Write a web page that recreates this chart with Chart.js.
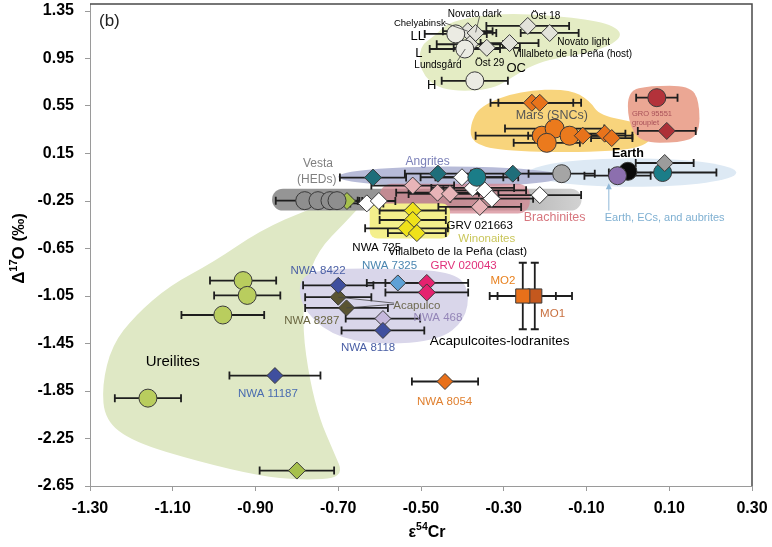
<!DOCTYPE html>
<html>
<head>
<meta charset="utf-8">
<script src="https://cdn.jsdelivr.net/npm/chart.js@4.4.1/dist/chart.umd.min.js"></script>
<style>
  html, body { margin: 0; padding: 0; background: #fff; }
  #wrap { width: 772px; height: 547px; }
</style>
</head>
<body>
<div id="wrap"><canvas id="chart" width="772" height="547"></canvas></div>
<script>
// axis ticks
const xTicks = [-1.30, -1.10, -0.90, -0.70, -0.50, -0.30, -0.10, 0.10, 0.30];
const xTickLabels = ["-1.30", "-1.10", "-0.90", "-0.70", "-0.50", "-0.30", "-0.10", "0.10", "0.30"];
const yTicks = [-2.65, -2.25, -1.85, -1.45, -1.05, -0.65, -0.25, 0.15, 0.55, 0.95, 1.35];
const yTickLabels = ["-2.65", "-2.25", "-1.85", "-1.45", "-1.05", "-0.65", "-0.25", "0.15", "0.55", "0.95", "1.35"];

// points: [e54Cr, D17O, xerr, yerr]
const ocCircles = [[-0.416, 1.157, 0.075], [-0.394, 1.03, 0.085], [-0.370, 0.762, 0.08]];
const ocDiamonds = [[-0.286, 1.08, 0.07], [-0.242, 1.224, 0.10], [-0.189, 1.165, 0.07], [-0.387, 1.18, 0.06],
                    [-0.368, 1.165, 0.05], [-0.382, 1.07, 0.08], [-0.341, 1.04, 0.08]];
const marsCircles = [[-0.208, 0.30, 0.16], [-0.177, 0.36, 0.12], [-0.141, 0.30, 0.10], [-0.196, 0.24, 0.08]];
const marsDiamonds = [[-0.232, 0.577, 0.10], [-0.213, 0.577, 0.10], [-0.109, 0.30, 0.12], [-0.056, 0.317, 0.05], [-0.039, 0.28, 0.05]];
const groCircle = [[0.07, 0.62, 0.05]];
const groDiamond = [[0.094, 0.34, 0.07]];
const vestaCircles = [[-0.781, -0.247, 0.07], [-0.749, -0.247, 0.05], [-0.720, -0.247, 0.05], [-0.703, -0.247, 0.05]];
const grayCircle = [[-0.160, -0.02, 0.08]];
const grayDiamond = [[0.089, 0.07, 0.07]];
const angriteDiamonds = [[-0.616, -0.053, 0.08], [-0.459, -0.02, 0.08], [-0.278, -0.02, 0.10]];
const tealCircles = [[-0.365, -0.05, 0.10], [0.084, -0.01, 0.13]];
const brachiniteDiamonds = [[-0.52, -0.12, 0.10], [-0.46, -0.18, 0.10], [-0.43, -0.19, 0.10], [-0.358, -0.30, 0.10]];
const whiteDiamonds = [[-0.631, -0.27, 0.04], [-0.602, -0.25, 0.04], [-0.401, -0.05, 0.10], [-0.375, -0.14, 0.10],
                       [-0.346, -0.16, 0.10], [-0.329, -0.23, 0.10], [-0.213, -0.20, 0.10]];
const greenDiamonds = [[-0.679, -0.25, 0.03], [-0.80, -2.52, 0.09]];
const winonaiteDiamonds = [[-0.52, -0.33, 0.08], [-0.52, -0.41, 0.08], [-0.535, -0.48, 0.10], [-0.51, -0.52, 0.07]];
const purpleCircle = [[-0.025, -0.037, 0.08]];
const earthCircle = [[0, 0, 0]];
const ureiliteCircles = [[-0.93, -0.92, 0.08], [-0.92, -1.045, 0.08], [-0.979, -1.21, 0.10], [-1.16, -1.91, 0.08]];
const blueDiamonds = [[-0.70, -0.96, 0.085], [-0.592, -1.34, 0.10], [-0.853, -1.72, 0.11]];
const nwa7325 = [[-0.556, -0.94, 0.075]];
const grv020043 = [[-0.486, -0.94, 0.10], [-0.486, -1.02, 0.10]];
const acapulco = [[-0.70, -1.06, 0.08], [-0.68, -1.15, 0.10]];
const nwa468 = [[-0.592, -1.24, 0.09]];
const mo2 = [[-0.254, -1.05, 0.08, 0.28]];
const mo1 = [[-0.225, -1.05, 0.09, 0.28]];
const nwa8054 = [[-0.442, -1.77, 0.08]];

// shaded groups (data coordinates)
const ureiliteArea = [[-0.619, -0.188], [-0.684, -0.432], [-0.749, -0.667], [-0.781, -0.961], [-0.786, -1.339], [-0.769, -1.759],
  [-0.744, -2.095], [-0.713, -2.347], [-0.684, -2.583], [-0.793, -2.600], [-0.889, -2.566], [-1.034, -2.448], [-1.196, -2.280],
  [-1.264, -2.095], [-1.271, -1.801], [-1.247, -1.465], [-1.191, -1.213], [-1.107, -0.961], [-1.003, -0.768], [-0.889, -0.499],
  [-0.769, -0.314], [-0.672, -0.205]];
const ocArea = [[-0.467, 1.14], [-0.43, 1.266], [-0.31, 1.333], [-0.165, 1.308], [-0.044, 1.249], [-0.008, 1.14], [-0.068, 1.014],
  [-0.213, 0.93], [-0.273, 0.804], [-0.334, 0.678], [-0.455, 0.678], [-0.503, 0.846], [-0.503, 1.056]];
const marsArea = [[-0.382, 0.384], [-0.358, 0.552], [-0.261, 0.678], [-0.141, 0.695], [-0.092, 0.594], [-0.068, 0.468],
  [0.029, 0.409], [0.065, 0.30], [0.029, 0.19], [-0.116, 0.157], [-0.31, 0.174], [-0.377, 0.241]];
const groArea = [[0, 0.678], [0.053, 0.72], [0.149, 0.72], [0.173, 0.594], [0.173, 0.30], [0.125, 0.241], [0.029, 0.241], [0, 0.426]];
const acapulcoiteArea = [[-0.793, -0.877], [-0.720, -0.818], [-0.551, -0.818], [-0.418, -0.852], [-0.382, -1.003],
  [-0.394, -1.255], [-0.455, -1.423], [-0.600, -1.465], [-0.720, -1.381], [-0.793, -1.129]];

const regions = [
  { type: "poly", pts: ureiliteArea, color: "#dfe8c5" },
  { type: "poly", pts: ocArea, color: "#e4ecc4" },
  { type: "poly", pts: marsArea, color: "#f8d47c" },
  { type: "poly", pts: groArea, color: "#eba794" },
  { type: "ellipse", cx: 0.012, cy: -0.011, rx: 0.25, ry: 0.12, color: "#dde9f4" },
  { type: "ellipse", cx: -0.43, cy: -0.045, rx: 0.27, ry: 0.085, color: "#b7bbd8" },
  { type: "box", x1: -0.86, y1: -0.146, x2: -0.112, y2: -0.331, round: 11, grad: ["#959595", "#d2d2d2"] },
  { type: "box", x1: -0.60, y1: -0.104, x2: -0.237, y2: -0.356, round: 12, color: "rgba(212,135,146,0.72)" },
  { type: "box", x1: -0.624, y1: -0.272, x2: -0.43, y2: -0.566, round: 8, color: "#f4ef8c" },
  { type: "poly", pts: acapulcoiteArea, color: "#d9d6ea" }
];

// text labels: [text, x, y, colour, font, align]
const labels = [
  ["Chelyabinsk", -0.503, 1.249, "#000", "9.5px", "center"],
  ["Novato dark", -0.370, 1.325, "#000", "10px", "center"],
  ["Öst 18", -0.199, 1.308, "#000", "10px", "center"],
  ["LL", -0.508, 1.14, "#000", "13px", "center"],
  ["L", -0.505, 0.989, "#000", "13px", "center"],
  ["Novato light", -0.107, 1.09, "#000", "10px", "center"],
  ["Villalbeto de la Peña (host)", -0.278, 0.989, "#000", "10px", "left"],
  ["Lundsgård", -0.459, 0.896, "#000", "10px", "center"],
  ["Öst 29", -0.334, 0.913, "#000", "10px", "center"],
  ["OC", -0.270, 0.863, "#000", "13px", "center"],
  ["H", -0.474, 0.72, "#000", "13px", "center"],
  ["Mars (SNCs)", -0.184, 0.468, "#555", "12.5px", "center"],
  ["GRO 95551", 0.010, 0.484, "#a85058", "7.5px", "left"],
  ["grouplet", 0.010, 0.409, "#a85058", "7.5px", "left"],
  ["Earth", 0.0, 0.148, "#000", "bold 12.5px", "center"],
  ["Earth, ECs, and aubrites", 0.089, -0.39, "#7fb0d2", "11px", "center"],
  ["Vesta", -0.749, 0.064, "#808080", "12px", "center"],
  ["(HEDs)", -0.752, -0.07, "#808080", "12px", "center"],
  ["Angrites", -0.484, 0.081, "#7b80b8", "12px", "center"],
  ["Brachinites", -0.177, -0.39, "#d7777f", "12.5px", "center"],
  ["GRV 021663", -0.358, -0.457, "#000", "11.5px", "center"],
  ["Winonaites", -0.341, -0.566, "#c9c65a", "11.5px", "center"],
  ["NWA 725", -0.607, -0.642, "#000", "11.5px", "center"],
  ["Villalbeto de la Peña (clast)", -0.58, -0.675, "#000", "11.5px", "left"],
  ["NWA 8422", -0.749, -0.835, "#4a5fa5", "11.5px", "center"],
  ["NWA 7325", -0.576, -0.793, "#4a86b0", "11.5px", "center"],
  ["GRV 020043", -0.397, -0.793, "#e0307a", "11.5px", "center"],
  ["MO2", -0.302, -0.919, "#e8801e", "11.5px", "center"],
  ["MO1", -0.182, -1.196, "#c87040", "11.5px", "center"],
  ["Acapulco", -0.51, -1.129, "#6e6a50", "11.5px", "center"],
  ["NWA 8287", -0.764, -1.255, "#6a6640", "11.5px", "center"],
  ["NWA 468", -0.459, -1.238, "#9486b8", "11.5px", "center"],
  ["NWA 8118", -0.628, -1.49, "#4a5fa5", "11.5px", "center"],
  ["Acapulcoites-lodranites", -0.310, -1.432, "#000", "13.5px", "center"],
  ["Ureilites", -1.10, -1.608, "#000", "15px", "center"],
  ["NWA 11187", -0.870, -1.877, "#4a6cb0", "11.5px", "center"],
  ["NWA 8054", -0.443, -1.944, "#e08030", "11.5px", "center"]
];

// leader lines: [x1, y1, x2, y2]
const leaders = [
  [-0.442, 1.249, -0.387, 1.18],
  [-0.358, 1.31, -0.368, 1.17],
  [-0.412, 0.93, -0.393, 1.03],
  [-0.70, -1.06, -0.565, -1.11],
  [-0.68, -1.15, -0.565, -1.12]
];

const FONT = "'Liberation Sans', Arial, sans-serif";

function series(pts, style, radius, fill) {
  return {
    data: pts.map(p => ({ x: p[0], y: p[1] })),
    xerr: pts.map(p => p[2] || 0),
    yerr: pts.map(p => p[3] || 0),
    pointStyle: style,
    pointRadius: radius,
    backgroundColor: fill,
    borderColor: "#3a3a3a",
    borderWidth: 1,
    showLine: false
  };
}

const C = "circle", D = "rectRot", S = "rect";
const datasets = [
  series(ocCircles, C, 9, "#ebebe3"),
  series(ocDiamonds, D, 8.5, "#e2e2da"),
  series(marsDiamonds, D, 8.5, "#e8731b"),
  series(marsCircles, C, 9.5, "#eb7a1d"),
  series(groCircle, C, 9, "#b3323a"),
  series(groDiamond, D, 8.5, "#ad3037"),
  series(vestaCircles, C, 9, "#8e8e8e"),
  series(grayCircle, C, 9, "#a5a5a5"),
  series(grayDiamond, D, 8.5, "#9c9c9c"),
  series(brachiniteDiamonds, D, 8.5, "#e8b4b8"),
  series(angriteDiamonds, D, 8.5, "#1f6e7a"),
  series(tealCircles, C, 9, "#1b7d88"),
  series(whiteDiamonds, D, 8.5, "#ffffff"),
  series(greenDiamonds, D, 8.5, "#a6c04c"),
  series(winonaiteDiamonds, D, 8.5, "#efe21a"),
  series(purpleCircle, C, 9, "#8c6fae"),
  series(earthCircle, C, 9, "#0a0a0a"),
  series(ureiliteCircles, C, 9, "#b9cd5e"),
  series(blueDiamonds, D, 8, "#3f4f9e"),
  series(nwa7325, D, 8, "#5ea1d6"),
  series(grv020043, D, 8.5, "#e5226f"),
  series(acapulco, D, 8, "#5a5432"),
  series(nwa468, D, 8, "#c6b8dc"),
  series(mo2, S, 10, "#e8701a"),
  series(mo1, S, 10, "#c4581e"),
  series(nwa8054, D, 8, "#e8701a")
];

function toPx(chart, x, y) {
  return [chart.scales.x.getPixelForValue(x), chart.scales.y.getPixelForValue(y)];
}

// smooth closed curve through midpoints
function smoothPath(ctx, p) {
  const n = p.length;
  const mid = (a, b) => [(a[0] + b[0]) / 2, (a[1] + b[1]) / 2];
  const m0 = mid(p[0], p[1]);
  ctx.moveTo(m0[0], m0[1]);
  for (let i = 1; i <= n; i++) {
    const c = p[i % n];
    const m = mid(c, p[(i + 1) % n]);
    ctx.quadraticCurveTo(c[0], c[1], m[0], m[1]);
  }
  ctx.closePath();
}

const overlay = {
  id: "overlay",
  beforeDatasetsDraw(chart) {
    const ctx = chart.ctx, a = chart.chartArea;
    ctx.save();
    ctx.beginPath();
    ctx.rect(a.left, a.top - 6, a.right - a.left, a.bottom - a.top + 6);
    ctx.clip();

    // shaded groups
    regions.forEach(r => {
      ctx.beginPath();
      if (r.type === "poly") {
        smoothPath(ctx, r.pts.map(p => toPx(chart, p[0], p[1])));
      } else if (r.type === "ellipse") {
        const c = toPx(chart, r.cx, r.cy);
        const e = toPx(chart, r.cx + r.rx, r.cy + r.ry);
        ctx.ellipse(c[0], c[1], Math.abs(e[0] - c[0]), Math.abs(e[1] - c[1]), 0, 0, Math.PI * 2);
      } else {
        const p1 = toPx(chart, r.x1, r.y1), p2 = toPx(chart, r.x2, r.y2);
        ctx.roundRect(p1[0], p1[1], p2[0] - p1[0], p2[1] - p1[1], r.round);
      }
      if (r.grad) {
        const p1 = toPx(chart, r.x1, r.y1), p2 = toPx(chart, r.x2, r.y2);
        const g = ctx.createLinearGradient(p1[0], 0, p2[0], 0);
        g.addColorStop(0, r.grad[0]);
        g.addColorStop(0.55, r.grad[0]);
        g.addColorStop(1, r.grad[1]);
        ctx.fillStyle = g;
      } else {
        ctx.fillStyle = r.color;
      }
      ctx.fill();
    });

    // error bars
    ctx.strokeStyle = "#1e1e1e";
    ctx.lineWidth = 1.8;
    chart.data.datasets.forEach(ds => {
      ds.data.forEach((d, i) => {
        const c = toPx(chart, d.x, d.y);
        const ex = ds.xerr[i], ey = ds.yerr[i];
        if (ex) {
          const l = chart.scales.x.getPixelForValue(d.x - ex);
          const r = chart.scales.x.getPixelForValue(d.x + ex);
          ctx.beginPath();
          ctx.moveTo(l, c[1]); ctx.lineTo(r, c[1]);
          ctx.moveTo(l, c[1] - 4); ctx.lineTo(l, c[1] + 4);
          ctx.moveTo(r, c[1] - 4); ctx.lineTo(r, c[1] + 4);
          ctx.stroke();
        }
        if (ey) {
          const t = chart.scales.y.getPixelForValue(d.y + ey);
          const b = chart.scales.y.getPixelForValue(d.y - ey);
          ctx.beginPath();
          ctx.moveTo(c[0], t); ctx.lineTo(c[0], b);
          ctx.moveTo(c[0] - 4, t); ctx.lineTo(c[0] + 4, t);
          ctx.moveTo(c[0] - 4, b); ctx.lineTo(c[0] + 4, b);
          ctx.stroke();
        }
      });
    });
    ctx.restore();
  },
  afterDatasetsDraw(chart) {
    const ctx = chart.ctx, a = chart.chartArea;
    ctx.save();

    // leader lines
    ctx.strokeStyle = "#444";
    ctx.lineWidth = 0.8;
    leaders.forEach(l => {
      const p = toPx(chart, l[0], l[1]), q = toPx(chart, l[2], l[3]);
      ctx.beginPath(); ctx.moveTo(p[0], p[1]); ctx.lineTo(q[0], q[1]); ctx.stroke();
    });

    // arrow to Earth group
    const a1 = toPx(chart, -0.046, -0.331), a2 = toPx(chart, -0.046, -0.10);
    ctx.strokeStyle = "#8fb8d8"; ctx.fillStyle = "#8fb8d8"; ctx.lineWidth = 1;
    ctx.beginPath(); ctx.moveTo(a1[0], a1[1]); ctx.lineTo(a2[0], a2[1] + 4); ctx.stroke();
    ctx.beginPath(); ctx.moveTo(a2[0], a2[1]); ctx.lineTo(a2[0] - 3, a2[1] + 6); ctx.lineTo(a2[0] + 3, a2[1] + 6); ctx.closePath(); ctx.fill();

    // labels
    ctx.textBaseline = "middle";
    labels.forEach(t => {
      const p = toPx(chart, t[1], t[2]);
      ctx.font = t[4] + " " + FONT;
      ctx.fillStyle = t[3];
      ctx.textAlign = t[5];
      ctx.fillText(t[0], p[0], p[1]);
    });

    ctx.font = "17px " + FONT;
    ctx.fillStyle = "#222";
    ctx.textAlign = "left";
    ctx.fillText("(b)", a.left + 9, a.top + 10);

    // frame: left axis extension, top and right
    const top = a.top - 7;
    ctx.strokeStyle = "#9a9a9a";
    ctx.lineWidth = 1;
    ctx.beginPath(); ctx.moveTo(a.left + 0.5, a.top); ctx.lineTo(a.left + 0.5, top); ctx.stroke();
    ctx.strokeStyle = "#4a4a4a";
    ctx.lineWidth = 1.5;
    ctx.beginPath();
    ctx.moveTo(a.left, top); ctx.lineTo(a.right, top); ctx.lineTo(a.right, a.bottom);
    ctx.stroke();

    // axis titles with superscripts
    function rich(parts) {
      let w = 0;
      parts.forEach(p => { ctx.font = "bold " + p[1] + "px " + FONT; w += ctx.measureText(p[0]).width; });
      let x = -w / 2;
      parts.forEach(p => {
        ctx.font = "bold " + p[1] + "px " + FONT;
        ctx.fillText(p[0], x, p[2]);
        x += ctx.measureText(p[0]).width;
      });
    }
    ctx.fillStyle = "#000";
    ctx.textAlign = "left";
    ctx.textBaseline = "alphabetic";
    ctx.save();
    ctx.translate(24, (a.top + a.bottom) / 2);
    ctx.rotate(-Math.PI / 2);
    rich([["Δ", 17, 0], ["17", 11, -7], ["O (‰)", 17, 0]]);
    ctx.restore();
    ctx.save();
    ctx.translate((a.left + a.right) / 2 + 6, 537);
    rich([["ε", 16, 0], ["54", 10.5, -7], ["Cr", 16, 0]]);
    ctx.restore();

    ctx.restore();
  }
};

new Chart(document.getElementById("chart"), {
  type: "scatter",
  data: { datasets: datasets },
  plugins: [overlay],
  options: {
    responsive: false,
    animation: false,
    events: [],
    devicePixelRatio: 1,
    layout: { padding: { left: 0, right: 20, top: 10, bottom: 0 } },
    plugins: { legend: { display: false }, tooltip: { enabled: false } },
    scales: {
      x: {
        type: "linear",
        min: -1.30, max: 0.30,
        afterBuildTicks: s => { s.ticks = xTicks.map(v => ({ value: v })); },
        afterFit: s => { s.height = 61; s.paddingLeft = 0; s.paddingRight = 0; },
        ticks: {
          callback: (v, i) => xTickLabels[i],
          color: "#000",
          font: { family: FONT, size: 16, weight: "bold" },
          padding: 8,
          maxRotation: 0
        },
        grid: { drawOnChartArea: false, drawTicks: true, tickLength: 5, color: "#9a9a9a" },
        border: { display: true, color: "#9a9a9a", width: 1 },
        title: { display: false }
      },
      y: {
        type: "linear",
        min: -2.65, max: 1.35,
        afterBuildTicks: s => { s.ticks = yTicks.map(v => ({ value: v })); },
        afterFit: s => { s.width = 90; s.paddingTop = 0; s.paddingBottom = 0; },
        ticks: {
          callback: (v, i) => yTickLabels[i],
          color: "#000",
          font: { family: FONT, size: 16, weight: "bold" },
          padding: 11
        },
        grid: { drawOnChartArea: false, drawTicks: true, tickLength: 5, color: "#9a9a9a" },
        border: { display: true, color: "#9a9a9a", width: 1 },
        title: { display: false }
      }
    }
  }
});
</script>
</body>
</html>
